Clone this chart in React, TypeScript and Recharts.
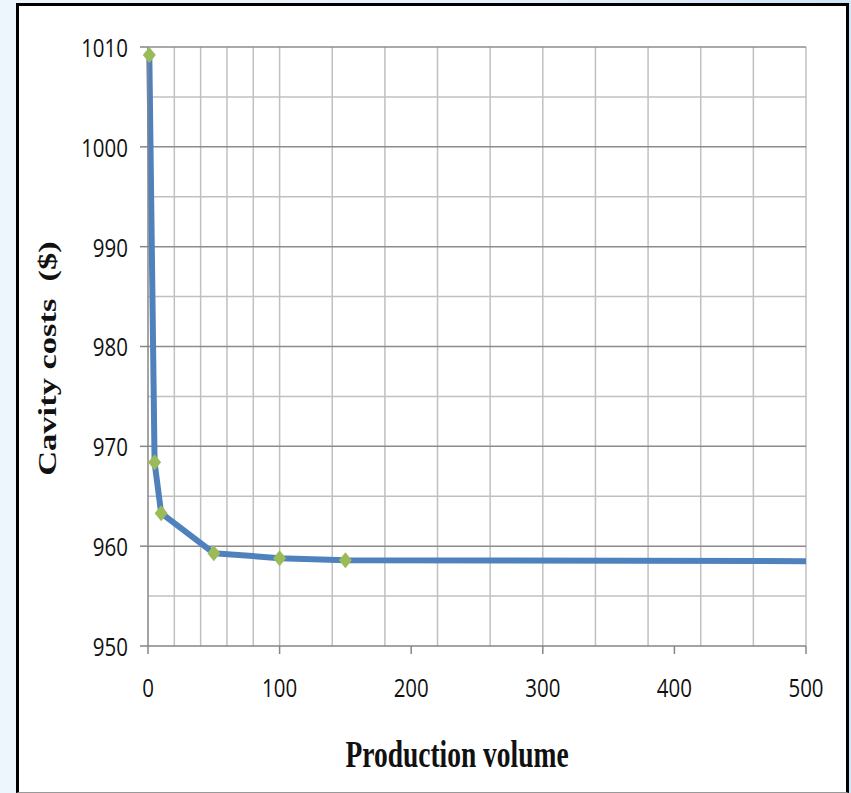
import React from "react";
import { LineChart, Line, XAxis, YAxis, CartesianGrid, Label } from "recharts";

// production volume vs cavity cost
const volumes = [1, 5, 10, 50, 100, 150, 500];
const costs = [1009.2, 968.4, 963.3, 959.3, 958.8, 958.6, 958.5];
const markerVolumes = [1, 5, 10, 50, 100, 150];

const xTicks = [0, 100, 200, 300, 400, 500];
const yTicks = [950, 960, 970, 980, 990, 1000, 1010];
const xGrid = [20, 40, 60, 80, 100, 120, 140, 160, 180, 200, 220, 240, 260, 280, 300, 320, 340, 360, 380, 400, 420, 440, 460, 480, 500];
const yMinorGrid = [955, 965, 975, 985, 995, 1005];
const yMajorGrid = [960, 970, 980, 990, 1000, 1010];

const data = volumes.map((v, i) => ({ volume: v, cost: costs[i] }));

const tickFont = "'Open Sans', sans-serif";
const titleFont = "'Liberation Serif', 'Times New Roman', serif";

function XTick({ x, y, payload }: any) {
  return (
    <text
      transform={`translate(${x} ${y}) scale(1 1.25)`}
      textAnchor="middle"
      dominantBaseline="central"
      fontFamily={tickFont}
      fontSize={20.5}
      fill="#111"
    >
      {payload.value}
    </text>
  );
}

function YTick({ x, y, payload }: any) {
  return (
    <text
      transform={`translate(${x} ${y}) scale(1 1.25)`}
      textAnchor="end"
      dominantBaseline="central"
      fontFamily={tickFont}
      fontSize={20.5}
      fill="#111"
    >
      {payload.value}
    </text>
  );
}

function YTitle({ viewBox }: any) {
  const cx = viewBox.x + 48;
  const cy = viewBox.y + viewBox.height / 2 + 12;
  return (
    <text
      transform={`translate(${cx} ${cy}) rotate(-90) scale(1.38 1)`}
      textAnchor="middle"
      dominantBaseline="central"
      fontFamily={titleFont}
      fontWeight="bold"
      fontSize={25}
      fill="#111"
      style={{ whiteSpace: "pre" }}
    >
      {"Cavity costs  ($)"}
    </text>
  );
}

function XTitle({ viewBox }: any) {
  const cx = viewBox.x + viewBox.width / 2 - 20;
  const cy = viewBox.y + 121;
  return (
    <text
      transform={`translate(${cx} ${cy}) scale(1 1.35)`}
      textAnchor="middle"
      fontFamily={titleFont}
      fontWeight="bold"
      fontSize={27.5}
      fill="#111"
    >
      Production volume
    </text>
  );
}

function Diamond(props: any) {
  const { cx, cy, payload, index } = props;
  if (!markerVolumes.includes(payload.volume)) return <g key={index} />;
  return (
    <path
      key={index}
      d={`M${cx},${cy - 8} L${cx + 6.5},${cy} L${cx},${cy + 8} L${cx - 6.5},${cy} Z`}
      fill="#9BBB59"
    />
  );
}

export default function App() {
  return (
    <div
      style={{
        position: "absolute",
        left: 0,
        top: 0,
        width: 851,
        height: 793,
        background: "linear-gradient(90deg, #eef6fd 0%, #e4f0fb 60%, #cfe5f8 100%)",
        overflow: "hidden",
      }}
    >
      <div
        style={{
          position: "absolute",
          left: 16,
          top: 3,
          width: 827,
          height: 786,
          background: "#fff",
          borderLeft: "3px solid #000",
          borderTop: "3px solid #000",
          borderRight: "3px solid #000",
          borderBottom: "1px solid #999",
        }}
      />
      <div style={{ position: "absolute", left: 0, top: 0 }}>
        <LineChart width={851} height={793} data={data} margin={{ top: 47, right: 45, bottom: 0, left: 0 }}>
          <CartesianGrid vertical horizontal={false} verticalValues={xGrid} stroke="#c0c0c0" strokeWidth={1.5} />
          <CartesianGrid vertical={false} horizontal horizontalValues={yMinorGrid} stroke="#c0c0c0" strokeWidth={1.5} />
          <CartesianGrid vertical={false} horizontal horizontalValues={yMajorGrid} stroke="#8c8c8c" strokeWidth={1.5} />
          <XAxis
            dataKey="volume"
            type="number"
            domain={[0, 500]}
            ticks={xTicks}
            height={147}
            tickSize={8}
            tickMargin={33}
            tick={<XTick />}
            axisLine={{ stroke: "#868686", strokeWidth: 1.5 }}
            tickLine={{ stroke: "#868686", strokeWidth: 1.5 }}
          >
            <Label content={<XTitle />} />
          </XAxis>
          <YAxis
            type="number"
            domain={[950, 1010]}
            ticks={yTicks}
            width={148}
            tickSize={8}
            tickMargin={12}
            tick={<YTick />}
            axisLine={{ stroke: "#868686", strokeWidth: 1.5 }}
            tickLine={{ stroke: "#868686", strokeWidth: 1.5 }}
          >
            <Label content={<YTitle />} />
          </YAxis>
          <Line
            type="linear"
            dataKey="cost"
            stroke="#4F81BD"
            strokeWidth={6}
            strokeLinejoin="round"
            dot={Diamond}
            activeDot={false}
            isAnimationActive={false}
          />
        </LineChart>
      </div>
    </div>
  );
}
